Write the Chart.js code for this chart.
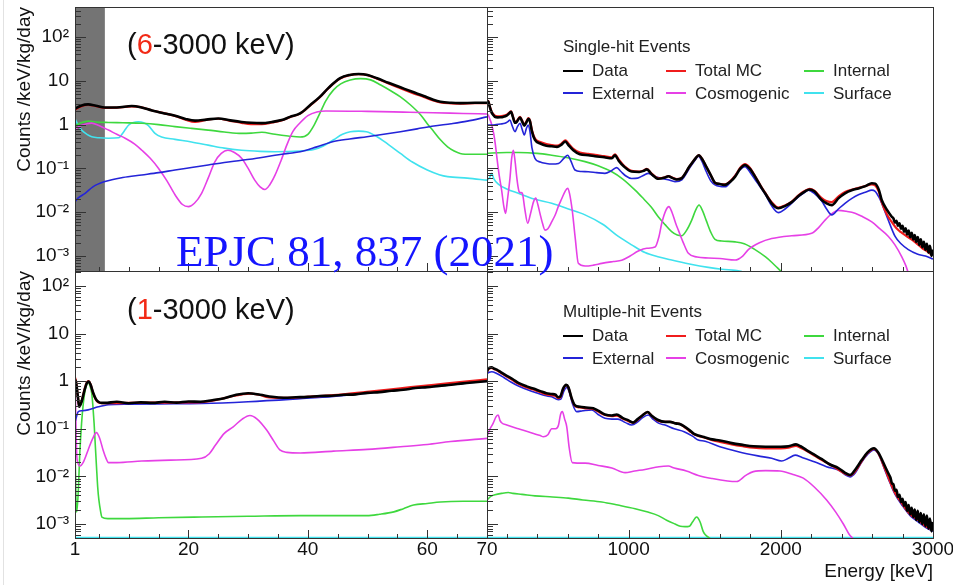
<!DOCTYPE html>
<html>
<head>
<meta charset="utf-8">
<script src="https://cdn.jsdelivr.net/npm/chart.js@4.4.1/dist/chart.umd.min.js"></script>
<style>
  body { margin: 0; width: 953px; height: 585px; overflow: hidden; position: relative; background: #fff;
         font-family: "Liberation Sans", Arial, sans-serif; }
  canvas { position: absolute; }
  .leg { position: absolute; font-size: 17px; line-height: 17px; color: #222; white-space: nowrap; }
  .sw { position: absolute; width: 20px; height: 2px; }
  .tag { position: absolute; left: 127px; font-size: 29px; line-height: 29px; color: #111; white-space: nowrap; }
  .tag span { color: #f22a16; }
  #mark { position: absolute; left: 176px; top: 229px; font-family: "Liberation Serif", serif; font-size: 45px;
          line-height: 45px; color: #1515ff; white-space: nowrap; }
  #edge { position: absolute; left: 3px; top: 0; width: 1px; height: 585px; background: #e2e2e2; }
</style>
</head>
<body>
<div id="edge"></div>
<canvas id="tl" width="500" height="272" style="left:0;top:0"></canvas>
<canvas id="tr" width="468" height="272" style="left:487px;top:0"></canvas>
<canvas id="bl" width="500" height="314" style="left:0;top:271px"></canvas>
<canvas id="br" width="468" height="314" style="left:487px;top:271px"></canvas>
<div class="tag" style="top:30px">(<span>6</span>-3000 keV)</div>
<div class="tag" style="top:295px">(<span>1</span>-3000 keV)</div>
<div id="mark">EPJC 81, 837 (2021)</div>
<script>
// axis ticks
const yTickValues = [1e-3, 1e-2, 1e-1, 1, 10, 100];
const yTickLabels = ['10⁻³', '10⁻²', '10⁻¹', '1', '10', '10²'];
const lowTickValues = [1, 20, 40, 60, 70];
const lowTickLabels = ['1', '20', '40', '60', '70'];
const highTickValues = [1000, 2000, 3000];
const highTickLabels = ['1000', '2000', '3000'];
const lowMinorTicks = [5, 10, 15, 25, 30, 35, 45, 50, 55, 65];
const highMinorTicks = [200, 400, 600, 800, 1200, 1400, 1600, 1800, 2200, 2400, 2600, 2800];
const thresholdBand = [1, 6];

// series: Data, Total MC, External, Cosmogenic, Internal, Surface
const seriesNames = ['Data', 'Total MC', 'External', 'Cosmogenic', 'Internal', 'Surface'];
const seriesColors = ['#000000', '#f01c1c', '#2424d8', '#e640e6', '#3ed83e', '#40e2ee'];
const seriesWidths = [2.6, 2.2, 1.6, 1.6, 1.6, 1.6];

// single-hit, 1-70 keV  [energy keV, counts/keV/kg/day]
const tlData = [[1,2.3],[2,2.7],[3.2,2.9],[4.5,2.7],[6,2.45],[8,2.45],[10.5,2.66],[12,2.5],[13.9,2.1],[16,1.8],[17.75,1.6],[19.5,1.35],[21.1,1.23],[23,1.3],[25,1.38],[27,1.25],[28.9,1.15],[30.5,1.1],[32.3,1.08],[34,1.15],[35.6,1.27],[37,1.5],[38.7,1.8],[40.4,2.8],[42,4.3],[43.5,7.0],[45.4,11.5],[47,13.6],[48.5,14.3],[50,13.6],[51.6,11.4],[53.5,9.0],[55.5,7.1],[57.5,5.6],[59.4,4.5],[61,3.7],[62.2,3.33],[64,3.15],[65.5,3.1],[68,3.15],[70,3.15]];
const tlMC = [[1,2.2],[2,2.6],[3.2,2.8],[4.5,2.65],[6,2.4],[8,2.45],[10.5,2.6],[12,2.5],[13.9,2.1],[16,1.8],[17.75,1.58],[19.5,1.3],[21.1,1.15],[23,1.28],[25,1.36],[27,1.22],[28.9,1.1],[30.5,1.03],[32.3,1.02],[34,1.12],[35.6,1.25],[37,1.48],[38.7,1.78],[40.4,2.75],[42,4.2],[43.5,6.9],[45.4,11.3],[47,13.5],[48.5,14.2],[50,13.5],[51.6,11.2],[53.5,8.7],[55.5,6.8],[57.5,5.3],[59.4,4.3],[61,3.55],[62.2,3.2],[64,3.05],[65.5,3.0],[68,3.08],[70,3.1]];
const tlExternal = [[1,0.0174],[1.5,0.021],[2.7,0.027],[4,0.038],[6,0.05],[9,0.062],[12.2,0.071],[15,0.08],[17.75,0.092],[20.5,0.105],[23.3,0.12],[26,0.137],[28.9,0.153],[32,0.175],[34.5,0.2],[36.7,0.22],[38.7,0.24],[41.5,0.31],[44.3,0.41],[47,0.47],[49.9,0.53],[52.7,0.6],[55.5,0.69],[58.3,0.8],[61.1,0.93],[64,1.05],[66.7,1.2],[70,1.5]];
const tlCosmogenic = [[1,0.78],[2,0.95],[3,1.05],[3.8,1.08],[5,0.95],[6.6,0.75],[8,0.6],[9.4,0.49],[11,0.36],[12.2,0.26],[13.6,0.17],[15,0.1],[16.4,0.052],[17.75,0.025],[19,0.015],[20,0.0134],[21,0.016],[22.2,0.027],[23.3,0.06],[24.4,0.14],[25.5,0.22],[26.6,0.26],[27.7,0.23],[28.9,0.17],[30,0.1],[31.1,0.054],[32,0.038],[32.8,0.033],[33.6,0.042],[34.5,0.07],[35.5,0.15],[36.5,0.35],[37.5,0.7],[38.7,1.1],[40,1.6],[41.5,1.95],[43,2.05],[50,2.0],[56,1.93],[61,1.87],[66,1.8],[70,1.75]];
const tlInternal = [[1,0.94],[2,1.1],[3.2,1.2],[4.5,1.15],[6.6,1.12],[9,1.1],[12.2,1.07],[15,1.0],[17.75,0.9],[20.5,0.82],[23.3,0.75],[26,0.68],[28.9,0.63],[30.5,0.64],[32.3,0.67],[34.5,0.6],[36.7,0.55],[38.7,0.52],[40,0.6],[41,0.95],[42,1.8],[43,3.5],[44.3,6.2],[45.5,8.5],[47.1,10.4],[48.8,11.2],[50.5,10.5],[52.2,8.0],[53.8,6.0],[55.5,4.3],[57.2,2.8],[58.9,1.66],[60,1.05],[61.1,0.69],[62.2,0.45],[63.4,0.31],[64.5,0.25],[65.5,0.22],[67.5,0.21],[70,0.21]];
const tlSurface = [[1,1.35],[1.5,1.0],[2.1,0.75],[3,0.6],[3.8,0.53],[5,0.5],[6.6,0.49],[8.3,0.5],[9.2,0.7],[10,0.98],[10.8,1.12],[11.6,1.16],[12.5,1.1],[13.3,0.95],[14.4,0.63],[15.5,0.52],[17.75,0.46],[20.5,0.4],[23.3,0.34],[26,0.29],[28.9,0.26],[32,0.245],[34.5,0.24],[38.7,0.25],[41,0.27],[42.5,0.32],[44.3,0.45],[45.8,0.6],[47.1,0.69],[48.5,0.71],[49.8,0.69],[51.6,0.53],[53.5,0.35],[55.5,0.22],[57.5,0.14],[60,0.092],[62,0.072],[63.4,0.065],[66.7,0.06],[70,0.054]];

// single-hit, 70-3000 keV
const trData = [[70,3.2],[75,3.4],[79,3.3],[90,2.4],[100,1.9],[111,1.66],[122,1.5],[140,1.46],[155,1.47],[175,1.5],[199,1.6],[212,1.75],[228,1.95],[240,1.5],[254,1.1],[265,1.15],[287,1.45],[300,1.2],[315,0.95],[330,1.15],[342,1.35],[352,1.2],[365,0.7],[385,0.45],[420,0.37],[460,0.33],[495,0.32],[530,0.31],[560,0.35],[585,0.41],[605,0.34],[637,0.26],[680,0.21],[736,0.2],[780,0.19],[840,0.18],[890,0.17],[911,0.2],[935,0.15],[970,0.11],[1020,0.085],[1070,0.083],[1100,0.088],[1120,0.095],[1150,0.075],[1195,0.058],[1240,0.062],[1261,0.066],[1290,0.06],[1316,0.056],[1350,0.06],[1400,0.11],[1440,0.17],[1461,0.2],[1485,0.16],[1510,0.11],[1540,0.07],[1568,0.047],[1600,0.044],[1634,0.042],[1670,0.05],[1700,0.065],[1735,0.1],[1765,0.12],[1795,0.1],[1831,0.065],[1870,0.038],[1897,0.027],[1940,0.016],[1984,0.0123],[2030,0.014],[2072,0.017],[2120,0.024],[2160,0.03],[2190,0.033],[2220,0.03],[2269,0.019],[2300,0.016],[2335,0.0145],[2380,0.021],[2422,0.027],[2470,0.032],[2510,0.035],[2560,0.04],[2598,0.046],[2620,0.045],[2645,0.032],[2663,0.019],[2700,0.011],[2729,0.0079],[2740,0.0072],[2750,0.0058],[2760,0.0064],[2770,0.0049],[2780,0.0056],[2790,0.0042],[2800,0.0049],[2810,0.0036],[2820,0.0043],[2830,0.0031],[2840,0.0038],[2850,0.0027],[2860,0.0034],[2870,0.0024],[2880,0.003],[2890,0.0021],[2900,0.0027],[2910,0.0018],[2920,0.0024],[2930,0.0016],[2940,0.0021],[2950,0.0014],[2960,0.0019],[2970,0.0012],[2980,0.0017],[2990,0.001],[3000,0.0014]];
const trMC = [[70,3.3],[75,3.5],[79,3.4],[90,2.5],[100,2.0],[111,1.75],[122,1.6],[140,1.55],[155,1.55],[175,1.58],[199,1.68],[212,1.82],[228,2.0],[240,1.55],[254,1.15],[265,1.2],[287,1.5],[300,1.25],[315,1.0],[330,1.2],[342,1.4],[352,1.25],[365,0.75],[385,0.48],[420,0.4],[460,0.36],[495,0.34],[530,0.33],[560,0.37],[585,0.44],[605,0.37],[637,0.28],[680,0.23],[736,0.215],[780,0.205],[840,0.19],[890,0.18],[911,0.21],[935,0.16],[970,0.115],[1020,0.088],[1070,0.085],[1100,0.09],[1120,0.098],[1150,0.077],[1195,0.06],[1240,0.063],[1261,0.067],[1290,0.061],[1316,0.057],[1350,0.061],[1400,0.11],[1440,0.17],[1461,0.2],[1485,0.16],[1510,0.11],[1540,0.07],[1568,0.047],[1600,0.044],[1634,0.043],[1670,0.052],[1700,0.068],[1735,0.105],[1765,0.125],[1795,0.105],[1831,0.067],[1870,0.039],[1897,0.028],[1940,0.017],[1984,0.0128],[2030,0.0145],[2072,0.0175],[2120,0.025],[2160,0.031],[2190,0.034],[2220,0.031],[2269,0.021],[2300,0.018],[2335,0.017],[2380,0.023],[2422,0.029],[2470,0.033],[2510,0.036],[2560,0.04],[2598,0.043],[2620,0.041],[2645,0.029],[2663,0.017],[2700,0.0085],[2729,0.006],[2760,0.0043],[2790,0.0035],[2817,0.003],[2850,0.0025],[2880,0.0021],[2904,0.0018],[2930,0.0015],[2960,0.0013],[2992,0.00105]];
const trExternal = [[70,1.0],[79,0.98],[100,0.98],[130,1.0],[160,1.03],[188,1.07],[205,1.15],[221,1.27],[235,0.95],[254,0.69],[270,0.9],[287,1.07],[300,0.8],[315,0.58],[328,0.8],[341,0.98],[352,0.7],[365,0.3],[385,0.17],[420,0.14],[460,0.13],[495,0.126],[540,0.13],[575,0.17],[600,0.2],[620,0.15],[648,0.092],[690,0.085],[736,0.084],[790,0.08],[845,0.077],[890,0.09],[922,0.104],[950,0.085],[980,0.068],[1020,0.059],[1060,0.06],[1100,0.07],[1130,0.077],[1160,0.068],[1218,0.059],[1260,0.055],[1305,0.05],[1350,0.055],[1400,0.1],[1440,0.16],[1458,0.19],[1480,0.15],[1510,0.085],[1540,0.052],[1568,0.042],[1634,0.038],[1680,0.055],[1720,0.085],[1765,0.11],[1800,0.08],[1840,0.05],[1897,0.026],[1940,0.014],[1984,0.0098],[2030,0.012],[2072,0.016],[2120,0.023],[2160,0.029],[2181,0.032],[2220,0.027],[2269,0.018],[2300,0.012],[2335,0.0087],[2380,0.012],[2422,0.016],[2470,0.021],[2510,0.025],[2560,0.029],[2598,0.032],[2620,0.03],[2645,0.022],[2663,0.016],[2700,0.0075],[2751,0.0028],[2790,0.0019],[2838,0.0014],[2900,0.0011],[2950,0.001],[3000,0.00085]];
const trCosmogenic = [[70,1.75],[80,1.6],[90,1.3],[101,1.0],[115,0.6],[125,0.35],[134,0.19],[150,0.07],[166,0.032],[180,0.014],[192,0.0094],[205,0.02],[221,0.06],[232,0.17],[243,0.26],[254,0.15],[265,0.065],[274,0.038],[282,0.029],[292,0.028],[302,0.027],[318,0.012],[337,0.0056],[355,0.009],[375,0.017],[390,0.021],[404,0.015],[418,0.0094],[435,0.0055],[451,0.0039],[470,0.0042],[495,0.006],[520,0.009],[538,0.0134],[560,0.02],[583,0.03],[600,0.035],[612,0.027],[630,0.011],[650,0.0025],[670,0.00068],[714,0.00059],[770,0.00062],[824,0.00068],[900,0.00075],[955,0.0008],[1010,0.001],[1064,0.0013],[1120,0.0015],[1174,0.0016],[1200,0.0028],[1218,0.0056],[1245,0.011],[1265,0.0134],[1285,0.01],[1310,0.0055],[1327,0.0039],[1360,0.002],[1393,0.00115],[1450,0.00095],[1524,0.0009],[1600,0.00088],[1700,0.00081],[1750,0.001],[1787,0.0014],[1860,0.002],[1940,0.0025],[2072,0.0029],[2203,0.0033],[2250,0.0045],[2291,0.0066],[2340,0.0095],[2378,0.011],[2430,0.0105],[2488,0.0095],[2540,0.0078],[2598,0.006],[2650,0.0042],[2707,0.0028],[2750,0.0018],[2795,0.00096],[2820,0.00062],[2834,0.00045]];
const trInternal = [[70,0.22],[100,0.225],[200,0.23],[276,0.23],[400,0.22],[495,0.2],[600,0.175],[714,0.143],[800,0.115],[890,0.084],[960,0.058],[1043,0.032],[1100,0.02],[1150,0.013],[1195,0.0079],[1240,0.0052],[1283,0.0036],[1320,0.003],[1349,0.0029],[1380,0.0038],[1415,0.0066],[1440,0.011],[1463,0.0146],[1485,0.011],[1510,0.0065],[1540,0.0035],[1568,0.0024],[1612,0.0022],[1700,0.0021],[1760,0.0019],[1831,0.0014],[1900,0.00095],[1940,0.00072],[1975,0.00055],[2000,0.00045]];
const trSurface = [[70,0.054],[85,0.06],[101,0.077],[115,0.058],[144,0.044],[200,0.034],[276,0.027],[380,0.02],[495,0.016],[600,0.012],[714,0.0087],[830,0.0053],[933,0.0028],[1020,0.0018],[1108,0.0012],[1200,0.00095],[1283,0.00081],[1400,0.00066],[1524,0.00055],[1612,0.0005],[1700,0.00047],[1743,0.00045]];

// multiple-hit, 1-70 keV
const blData = [[1,1.1],[1.2,0.9],[1.5,0.45],[1.7,0.29],[2.1,0.37],[2.6,0.65],[3,0.92],[3.3,0.98],[3.6,0.85],[4.07,0.56],[4.5,0.42],[4.9,0.37],[5.5,0.35],[6,0.35],[8,0.37],[10,0.345],[12,0.36],[14,0.35],[16,0.37],[18,0.355],[20,0.375],[22,0.37],[24,0.4],[26,0.44],[28,0.52],[30,0.56],[32,0.52],[34,0.47],[36,0.45],[38,0.46],[40,0.47],[42,0.49],[44,0.495],[46,0.52],[48,0.53],[50,0.57],[52,0.59],[54,0.63],[56,0.66],[58,0.72],[60,0.75],[62,0.8],[64,0.84],[66,0.9],[68,0.95],[70,1.0]];
const blMC = [[1,1.2],[1.2,0.95],[1.5,0.45],[1.7,0.3],[2.1,0.38],[2.6,0.68],[3,0.95],[3.3,1.0],[3.6,0.87],[4.07,0.55],[4.5,0.41],[4.9,0.36],[5.5,0.345],[6.6,0.345],[10,0.35],[15,0.355],[20,0.36],[22.2,0.365],[24.5,0.4],[26,0.44],[27.5,0.49],[29,0.53],[30.3,0.55],[31.8,0.52],[33,0.47],[34.2,0.45],[36,0.445],[38.7,0.46],[44.3,0.51],[49.9,0.6],[55.5,0.71],[61.1,0.84],[66.7,0.99],[70,1.1]];
const blExternal = [[1,0.14],[1.17,0.166],[1.56,0.23],[2.2,0.24],[3.2,0.25],[4.9,0.29],[6.6,0.32],[10,0.33],[15,0.335],[22.2,0.34],[30,0.37],[38.7,0.43],[44.3,0.48],[49.9,0.56],[55.5,0.66],[61.1,0.78],[66.7,0.92],[70,1.0]];
const blCosmogenic = [[1,1.5],[1.1,0.3],[1.28,0.03],[1.5,0.019],[1.84,0.0166],[2.4,0.02],[3.2,0.036],[3.9,0.06],[4.6,0.083],[5.1,0.065],[5.7,0.036],[6.2,0.024],[6.6,0.0195],[8,0.0195],[12.2,0.021],[17,0.022],[22.2,0.024],[23.5,0.03],[24.5,0.045],[26,0.08],[27.5,0.11],[29,0.16],[30.3,0.19],[31.5,0.16],[33.1,0.094],[34.3,0.055],[35.3,0.036],[36.5,0.032],[38.7,0.031],[44.3,0.034],[50,0.037],[55.5,0.042],[60,0.047],[63.9,0.054],[70,0.063]];
const blInternal = [[1,0.03],[1.1,0.01],[1.2,0.002],[1.3,0.0018],[1.56,0.0052],[1.8,0.03],[2.1,0.13],[2.4,0.35],[2.7,0.65],[3,0.88],[3.2,0.97],[3.5,0.8],[3.8,0.56],[4,0.3],[4.2,0.13],[4.4,0.045],[4.6,0.016],[4.8,0.006],[5,0.0032],[5.3,0.0018],[5.5,0.0014],[6.5,0.0013],[9.4,0.0013],[15,0.00135],[22.2,0.0014],[30,0.00145],[38.7,0.0015],[45,0.0015],[49.9,0.0015],[52,0.0016],[54.4,0.0018],[56,0.0021],[57.7,0.0025],[60,0.0027],[62.2,0.0029],[66,0.003],[70,0.003]];
const blSurface = [[1,0.00052],[70,0.00052]];

// multiple-hit, 70-3000 keV
const brData = [[70,1.6],[75,1.75],[85,1.9],[101,1.95],[115,1.85],[134,1.75],[160,1.55],[200,1.3],[240,1.1],[276,0.92],[330,0.78],[374,0.7],[420,0.62],[460,0.56],[495,0.54],[520,0.52],[538,0.46],[552,0.48],[570,0.7],[590,0.84],[605,0.75],[625,0.45],[645,0.32],[680,0.29],[720,0.28],[768,0.27],[800,0.24],[845,0.2],[890,0.19],[922,0.2],[960,0.17],[1000,0.15],[1030,0.135],[1060,0.16],[1090,0.19],[1125,0.225],[1150,0.19],[1190,0.155],[1240,0.14],[1272,0.14],[1310,0.13],[1340,0.125],[1400,0.094],[1430,0.078],[1458,0.072],[1503,0.066],[1550,0.06],[1600,0.057],[1678,0.05],[1750,0.046],[1820,0.043],[1900,0.042],[1940,0.042],[2000,0.042],[2050,0.043],[2100,0.047],[2130,0.043],[2180,0.034],[2225,0.028],[2270,0.023],[2320,0.018],[2378,0.015],[2420,0.012],[2455,0.0107],[2490,0.014],[2532,0.022],[2570,0.032],[2612,0.039],[2640,0.032],[2686,0.016],[2710,0.011],[2720,0.0095],[2730,0.0072],[2740,0.0068],[2750,0.005],[2760,0.0052],[2770,0.0037],[2780,0.0041],[2790,0.0029],[2800,0.0034],[2810,0.0024],[2820,0.0029],[2830,0.0019],[2840,0.0025],[2850,0.0016],[2860,0.0022],[2870,0.0014],[2880,0.002],[2890,0.0012],[2900,0.0019],[2910,0.0011],[2920,0.0017],[2930,0.001],[2940,0.0016],[2950,0.0009],[2960,0.0015],[2970,0.0008],[2980,0.0013],[2990,0.0007],[3000,0.0011]];
const brMC = [[70,1.55],[75,1.7],[85,1.85],[101,1.9],[115,1.8],[134,1.7],[160,1.5],[200,1.25],[240,1.05],[276,0.88],[330,0.74],[374,0.67],[420,0.59],[460,0.53],[495,0.51],[520,0.49],[538,0.44],[552,0.46],[570,0.68],[590,0.83],[605,0.74],[625,0.44],[645,0.31],[680,0.28],[720,0.27],[768,0.26],[800,0.23],[845,0.195],[890,0.185],[922,0.19],[960,0.165],[1000,0.145],[1030,0.135],[1060,0.155],[1090,0.19],[1125,0.225],[1150,0.19],[1190,0.15],[1240,0.14],[1272,0.14],[1310,0.13],[1340,0.125],[1400,0.09],[1430,0.077],[1458,0.071],[1503,0.065],[1550,0.058],[1600,0.053],[1678,0.047],[1750,0.043],[1820,0.04],[1900,0.039],[1940,0.039],[2000,0.039],[2050,0.04],[2100,0.044],[2130,0.04],[2180,0.033],[2225,0.027],[2270,0.022],[2320,0.018],[2378,0.014],[2420,0.0115],[2455,0.0105],[2490,0.013],[2532,0.021],[2570,0.031],[2612,0.038],[2640,0.031],[2686,0.014],[2720,0.0075],[2751,0.0045],[2800,0.0026],[2850,0.0016],[2904,0.0012],[2950,0.0009],[3000,0.00075]];
const brExternal = [[70,1.45],[85,1.55],[101,1.58],[134,1.45],[180,1.2],[230,0.95],[276,0.79],[374,0.6],[450,0.5],[495,0.47],[538,0.41],[555,0.42],[575,0.62],[594,0.74],[610,0.6],[630,0.35],[659,0.23],[700,0.24],[758,0.25],[800,0.2],[845,0.166],[890,0.16],[930,0.16],[980,0.135],[1020,0.12],[1060,0.14],[1090,0.17],[1130,0.195],[1160,0.16],[1200,0.13],[1240,0.12],[1300,0.1],[1365,0.087],[1420,0.07],[1458,0.058],[1503,0.055],[1600,0.042],[1721,0.033],[1850,0.027],[1940,0.024],[2006,0.021],[2050,0.024],[2094,0.028],[2140,0.025],[2225,0.02],[2300,0.016],[2378,0.0136],[2455,0.0098],[2490,0.012],[2532,0.02],[2570,0.029],[2612,0.036],[2640,0.03],[2686,0.013],[2720,0.007],[2751,0.0042],[2800,0.0024],[2850,0.0015],[2904,0.0011],[2950,0.00085],[3000,0.0007]];
const brCosmogenic = [[70,0.068],[80,0.085],[90,0.1],[110,0.13],[130,0.18],[144,0.195],[155,0.15],[166,0.134],[200,0.12],[276,0.1],[350,0.085],[420,0.072],[440,0.068],[470,0.075],[495,0.1],[521,0.1],[540,0.12],[553,0.2],[565,0.23],[580,0.16],[594,0.11],[610,0.04],[630,0.0195],[714,0.019],[800,0.017],[890,0.015],[977,0.012],[1040,0.013],[1108,0.014],[1200,0.016],[1261,0.0165],[1300,0.015],[1380,0.013],[1458,0.0105],[1550,0.009],[1650,0.008],[1710,0.0078],[1770,0.0105],[1820,0.0126],[1900,0.0132],[1995,0.013],[2080,0.011],[2148,0.0092],[2220,0.006],[2301,0.0032],[2360,0.0018],[2411,0.001],[2450,0.0006],[2473,0.0005]];
const brInternal = [[70,0.0032],[95,0.0038],[122,0.0041],[165,0.0044],[210,0.0046],[240,0.0044],[300,0.0042],[385,0.0039],[500,0.0037],[604,0.0035],[700,0.0032],[824,0.0029],[930,0.0025],[1043,0.0021],[1120,0.0018],[1195,0.0015],[1250,0.0012],[1305,0.001],[1340,0.0009],[1371,0.00088],[1400,0.0009],[1420,0.0011],[1447,0.0014],[1470,0.0011],[1490,0.0007],[1503,0.0006],[1535,0.0005]];
const brSurface = [[70,0.00052],[3000,0.00052]];

const legendOrder = [0, 1, 4, 2, 3, 5];
const legendCols = [563, 666, 804];

function datasets(list) {
  return list.map((pts, i) => ({
    label: seriesNames[i],
    data: pts.map(p => ({x: p[0], y: p[1]})),
    borderColor: seriesColors[i],
    borderWidth: seriesWidths[i],
    pointRadius: 0,
    cubicInterpolationMode: 'monotone',
    fill: false
  }));
}

const framePlugin = {
  id: 'frame',
  beforeDatasetsDraw(chart, args, o) {
    if (!o.shade) return;
    const {ctx, chartArea: a, scales: {x}} = chart;
    const x0 = x.getPixelForValue(o.shade[0]), x1 = x.getPixelForValue(o.shade[1]);
    ctx.save();
    ctx.fillStyle = '#747474';
    ctx.fillRect(x0, a.top, x1 - x0, a.bottom - a.top);
    ctx.restore();
  },
  afterDraw(chart, args, o) {
    const {ctx, chartArea: a, scales: {x, y}} = chart;
    ctx.save();
    ctx.strokeStyle = '#333';
    ctx.lineWidth = 1;
    ctx.beginPath();
    const yt = (v, len) => {
      const p = Math.round(y.getPixelForValue(v)) + 0.5;
      if (p < a.top || p > a.bottom) return;
      ctx.moveTo(a.left, p);
      ctx.lineTo(a.left + len, p);
    };
    yTickValues.forEach(v => yt(v, 11));
    for (let e = -4; e <= 2; e++) {
      for (let k = 2; k <= 9; k++) yt(k * Math.pow(10, e), 6);
    }
    const xt = (v, len) => {
      const p = Math.round(x.getPixelForValue(v)) + 0.5;
      if (p <= a.left + 1 || p >= a.right - 1) return;
      ctx.moveTo(p, a.bottom);
      ctx.lineTo(p, a.bottom - len);
    };
    o.xMajor.forEach(v => xt(v, 8));
    o.xMinor.forEach(v => xt(v, 4));
    ctx.stroke();
    ctx.strokeRect(Math.round(a.left) + 0.5, Math.round(a.top) + 0.5,
                   Math.round(a.right - a.left), Math.round(a.bottom - a.top));
    ctx.restore();
  }
};

const font19 = {family: 'Liberation Sans', size: 19};

function makeChart(id, c) {
  return new Chart(document.getElementById(id), {
    type: 'line',
    data: {datasets: datasets(c.series)},
    options: {
      responsive: false,
      animation: false,
      events: [],
      layout: {padding: c.padding},
      plugins: {
        legend: {display: false},
        tooltip: {enabled: false},
        frame: {shade: c.shade, xMajor: c.xMajor, xMinor: c.xMinor}
      },
      scales: {
        x: {
          type: 'linear', min: c.xMin, max: c.xMax, bounds: 'data',
          display: c.showX,
          grid: {display: false, drawTicks: false},
          border: {display: false},
          afterBuildTicks: s => { s.ticks = c.xTicks.map(v => ({value: v})); },
          afterFit: s => {
            if (c.showX) s.height = 47;
            s.paddingLeft = 0; s.paddingRight = 0;
          },
          ticks: {autoSkip: false, maxRotation: 0, padding: 0, color: '#111', font: font19,
                  callback: (v, i) => c.xLabels[i]},
          title: {display: !!c.xTitle, text: c.xTitle, align: 'end', color: '#111', font: font19,
                  padding: {top: 0, bottom: 2}}
        },
        y: {
          type: 'logarithmic', min: c.yMin, max: c.yMax, bounds: 'data',
          display: c.showY,
          grid: {display: false, drawTicks: false},
          border: {display: false},
          afterBuildTicks: s => { s.ticks = yTickValues.map(v => ({value: v})); },
          afterFit: s => {
            if (c.showY) s.width = 75;
            s.paddingTop = 0; s.paddingBottom = 0;
          },
          ticks: {autoSkip: false, padding: 6, color: '#111', font: font19,
                  callback: (v, i) => yTickLabels[i]},
          title: {display: c.showY, text: 'Counts /keV/kg/day', align: 'end', color: '#111', font: font19,
                  padding: {top: 13, bottom: 0}}
        }
      }
    },
    plugins: [framePlugin]
  });
}

makeChart('tl', {
  series: [tlData, tlMC, tlExternal, tlCosmogenic, tlInternal, tlSurface],
  xMin: 1, xMax: 70, yMin: 4.55e-4, yMax: 484, showX: false, showY: true,
  xTicks: lowTickValues, xLabels: lowTickLabels, xMajor: lowTickValues, xMinor: lowMinorTicks,
  shade: thresholdBand, padding: {top: 7, right: 13, bottom: 1, left: 0}
});
makeChart('tr', {
  series: [trData, trMC, trExternal, trCosmogenic, trInternal, trSurface],
  xMin: 70, xMax: 3000, yMin: 4.55e-4, yMax: 484, showX: false, showY: false,
  xTicks: highTickValues, xLabels: highTickLabels, xMajor: highTickValues, xMinor: highMinorTicks,
  padding: {top: 7, right: 22, bottom: 1, left: 0}
});
makeChart('bl', {
  series: [blData, blMC, blExternal, blCosmogenic, blInternal, blSurface],
  xMin: 1, xMax: 70, yMin: 5.08e-4, yMax: 207, showX: true, showY: true,
  xTicks: lowTickValues, xLabels: lowTickLabels, xMajor: lowTickValues, xMinor: lowMinorTicks,
  padding: {top: 0, right: 13, bottom: 0, left: 0}
});
makeChart('br', {
  series: [brData, brMC, brExternal, brCosmogenic, brInternal, brSurface],
  xMin: 70, xMax: 3000, yMin: 5.08e-4, yMax: 207, showX: true, showY: false,
  xTicks: highTickValues, xLabels: highTickLabels, xMajor: highTickValues, xMinor: highMinorTicks,
  xTitle: 'Energy [keV]',
  padding: {top: 0, right: 22, bottom: 0, left: 0}
});

function buildLegend(title, top) {
  const add = (cls, css, text) => {
    const d = document.createElement('div');
    d.className = cls;
    if (text) d.textContent = text;
    Object.assign(d.style, css);
    document.body.appendChild(d);
  };
  add('leg', {left: '563px', top: top + 'px'}, title);
  legendOrder.forEach((s, j) => {
    const col = j % 3, row = Math.floor(j / 3);
    const ty = top + 24.3 + row * 22.7;
    add('sw', {left: legendCols[col] + 'px', top: (ty + 7.4) + 'px', background: seriesColors[s]});
    add('leg', {left: (legendCols[col] + 29) + 'px', top: ty + 'px'}, seriesNames[s]);
  });
}
buildLegend('Single-hit Events', 38);
buildLegend('Multiple-hit Events', 303);
</script>
</body>
</html>
